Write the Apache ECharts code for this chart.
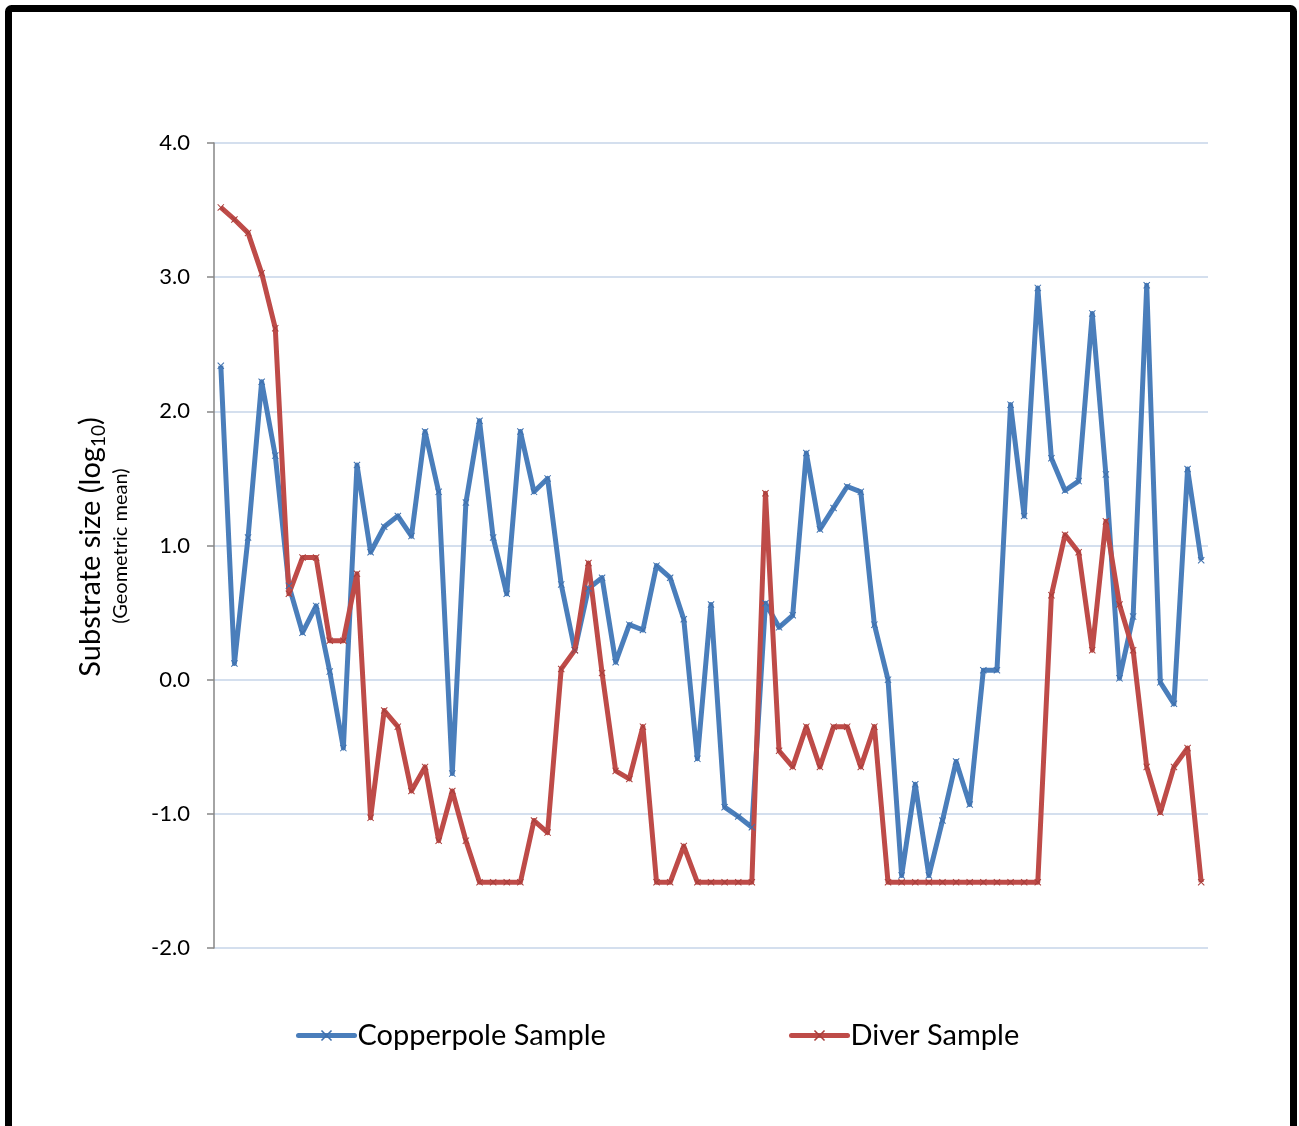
<!DOCTYPE html>
<html>
<head>
<meta charset="utf-8">
<script src="https://cdn.jsdelivr.net/npm/echarts@6/dist/echarts.min.js"></script>
<style>
html,body{margin:0;padding:0;background:#fff;}
#c{width:1299px;height:1126px;}
</style>
</head>
<body>
<div id="c"></div>
<script>
var categories = [];
for (var k = 1; k <= 73; k++) categories.push(String(k));

var copperpole = [2.34,0.12,1.06,2.22,1.67,0.70,0.35,0.55,0.06,-0.51,1.60,0.95,1.14,1.22,
  1.07,1.85,1.40,-0.70,1.32,1.93,1.06,0.64,1.85,1.40,1.50,0.71,0.22,0.68,
  0.76,0.13,0.41,0.37,0.85,0.76,0.45,-0.59,0.56,-0.95,-1.02,-1.10,0.57,
  0.39,0.48,1.69,1.12,1.28,1.44,1.40,0.41,0.00,-1.46,-0.78,-1.46,-1.05,-0.61,
  -0.93,0.07,0.07,2.05,1.22,2.92,1.65,1.41,1.48,2.73,1.53,0.01,0.47,2.94,-0.02,-0.18,1.57,0.89];

var diver = [3.52,3.43,3.33,3.03,2.62,0.64,0.91,0.91,0.29,0.29,0.79,-1.03,-0.23,-0.35,
  -0.83,-0.65,-1.20,-0.83,-1.20,-1.51,-1.51,-1.51,-1.51,-1.05,-1.14,0.08,0.22,0.87,
  0.05,-0.68,-0.74,-0.35,-1.51,-1.51,-1.24,-1.51,-1.51,-1.51,-1.51,-1.51,1.39,
  -0.53,-0.65,-0.35,-0.65,-0.35,-0.35,-0.65,-0.35,-1.51,-1.51,-1.51,-1.51,-1.51,-1.51,
  -1.51,-1.51,-1.51,-1.51,-1.51,-1.51,0.63,1.08,0.95,0.22,1.18,0.56,0.22,-0.65,-0.99,-0.65,-0.51,-1.51];

var yTicks = {min: -2, max: 4, interval: 1};
var seriesNames = ['Copperpole Sample', 'Diver Sample'];

var xMark = 'path://M1,0 L5,4 L9,0 L10,1 L6,5 L10,9 L9,10 L5,6 L1,10 L0,9 L4,5 L0,1 Z';
var FONT = 'Lato';

var chart = echarts.init(document.getElementById('c'), null, {renderer: 'canvas'});
chart.setOption({
  backgroundColor: '#ffffff',
  animation: false,
  grid: {left: 214, right: 91, top: 143, bottom: 178, containLabel: false},
  xAxis: {
    type: 'category',
    data: categories,
    boundaryGap: true,
    axisLine: {show: false},
    axisTick: {show: false},
    axisLabel: {show: false},
    splitLine: {show: false}
  },
  yAxis: {
    type: 'value',
    min: yTicks.min, max: yTicks.max, interval: yTicks.interval,
    axisLine: {show: true, lineStyle: {color: '#868686', width: 1.5}},
    axisTick: {show: true, length: 7, lineStyle: {color: '#868686', width: 1.5}},
    axisLabel: {
      margin: 24, color: '#000', fontFamily: FONT, fontSize: 22,
      formatter: function (v) { return v.toFixed(1); }
    },
    splitLine: {show: true, lineStyle: {color: '#c6d5e8', width: 1.5}}
  },
  legend: [
    {data: [seriesNames[0]], left: 296, top: 1021, padding: 0, itemWidth: 56, itemHeight: 14, itemGap: 0,
     lineStyle: {width: 5, cap: 'round'},
     textStyle: {fontFamily: FONT, fontSize: 29, color: '#000', padding: [0, 0, 0, -2]}},
    {data: [seriesNames[1]], left: 789, top: 1021, padding: 0, itemWidth: 56, itemHeight: 14, itemGap: 0,
     lineStyle: {width: 5, cap: 'round'},
     textStyle: {fontFamily: FONT, fontSize: 29, color: '#000', padding: [0, 0, 0, -2]}}
  ],
  series: [
    {name: seriesNames[0], type: 'line', data: copperpole, symbol: xMark, symbolSize: 7,
     showAllSymbol: true,
     lineStyle: {color: '#4a7ebb', width: 5, join: 'round'},
     itemStyle: {color: '#3f70ad'}},
    {name: seriesNames[1], type: 'line', data: diver, symbol: xMark, symbolSize: 7,
     showAllSymbol: true,
     lineStyle: {color: '#be4b48', width: 5, join: 'round'},
     itemStyle: {color: '#a83e3b'}}
  ],
  graphic: [
    {type: 'rect', shape: {x: 8.5, y: 8.5, width: 1285, height: 1140, r: 3},
     style: {fill: 'none', stroke: '#000', lineWidth: 7}, silent: true},
    {type: 'text', x: 74, y: 547, rotation: Math.PI / 2,
     style: {
       text: '{a|Substrate size (log}{s|10}{a|)}',
       align: 'center', verticalAlign: 'top',
       rich: {
         a: {fontFamily: FONT, fontSize: 29, color: '#000', lineHeight: 34},
         s: {fontFamily: FONT, fontSize: 19, color: '#000', lineHeight: 34, verticalAlign: 'bottom', padding: [14, 0, 0, 0]}
       }
     }},
    {type: 'text', x: 111, y: 546, rotation: Math.PI / 2,
     style: {text: '(Geometric mean)', align: 'center', verticalAlign: 'top',
       fontFamily: FONT, fontSize: 20, fill: '#000'}}
  ]
});
</script>
</body>
</html>
